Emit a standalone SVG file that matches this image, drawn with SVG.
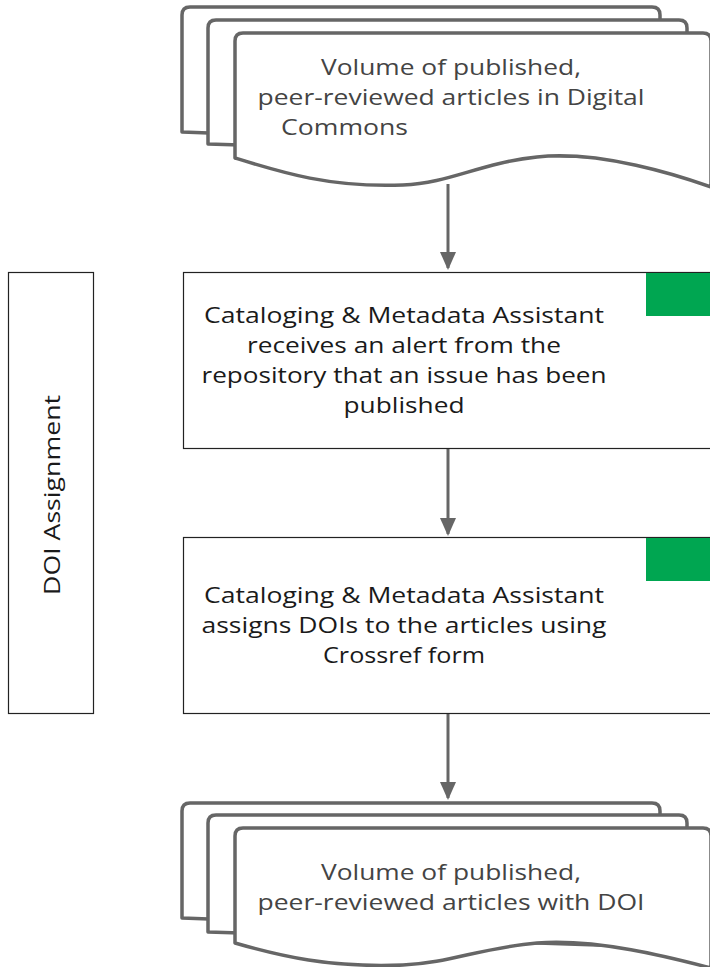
<svg xmlns="http://www.w3.org/2000/svg" width="710" height="967" viewBox="0 0 710 967">
<defs>
<style>
.doc{fill:#fff;stroke:#666;stroke-width:3.5;stroke-linejoin:round}
.box{fill:#fff;stroke:#222;stroke-width:1.2}
.tag{fill:#00a651}
.t{font-family:"Open Sans","Noto Sans",sans-serif;font-size:21px;fill:#1a1a1a}
.td{font-family:"Open Sans","Noto Sans",sans-serif;font-size:21px;fill:#444}
.conn{stroke:#666;stroke-width:3;fill:none}
</style>
<marker id="ah" markerUnits="userSpaceOnUse" markerWidth="18" markerHeight="24" refX="16" refY="8" orient="auto" viewBox="0 0 18 16">
<path d="M0,0 L18,8 L0,16 Z" fill="#666"/>
</marker>
</defs>
<rect width="710" height="967" fill="#fff"/>
<g id="lane">
<rect class="box" x="8.5" y="272.5" width="85" height="441"/>
<text class="t" transform="translate(60,495) rotate(-90)" text-anchor="middle" textLength="200" lengthAdjust="spacingAndGlyphs">DOI Assignment</text>
</g>
<g id="connectors">
<line class="conn" x1="448" y1="184" x2="448" y2="268" marker-end="url(#ah)"/>
<line class="conn" x1="448" y1="449" x2="448" y2="534" marker-end="url(#ah)"/>
<line class="conn" x1="448" y1="714" x2="448" y2="798" marker-end="url(#ah)"/>
</g>
<g id="doc1">
<path class="doc" d="M182,132 L182,15 Q182,7 190,7 L652,7 Q660,7 660,15 L660,150 L182,132 Z"/>
<path class="doc" d="M208,144 L208,28 Q208,20 216,20 L679,20 Q687,20 687,28 L687,160 L208,144 Z"/>
<path class="doc" d="M235,158 L235,41 Q235,33 243,33 L703,33 Q711,33 711,41 L711,187 C680,176 600,150 537,157 C480,163 450,183 403,185 C330,188 280,172 235,158 Z"/>
<text class="td" x="451" y="75" text-anchor="middle" textLength="260" lengthAdjust="spacingAndGlyphs">Volume of published,</text>
<text class="td" x="451" y="105" text-anchor="middle" textLength="387" lengthAdjust="spacingAndGlyphs">peer-reviewed articles in Digital</text>
<text class="td" x="281" y="135" textLength="127" lengthAdjust="spacingAndGlyphs">Commons</text>
</g>
<g id="step1">
<rect class="box" x="183.5" y="272.5" width="530" height="176"/>
<rect class="tag" x="646" y="273" width="64" height="43"/>
<text class="t" x="404" y="323" text-anchor="middle" textLength="400" lengthAdjust="spacingAndGlyphs">Cataloging &amp; Metadata Assistant</text>
<text class="t" x="404" y="353" text-anchor="middle" textLength="314" lengthAdjust="spacingAndGlyphs">receives an alert from the</text>
<text class="t" x="404" y="383" text-anchor="middle" textLength="405" lengthAdjust="spacingAndGlyphs">repository that an issue has been</text>
<text class="t" x="404" y="413" text-anchor="middle" textLength="121" lengthAdjust="spacingAndGlyphs">published</text>
</g>
<g id="step2">
<rect class="box" x="183.5" y="537.5" width="530" height="176"/>
<rect class="tag" x="646" y="538" width="64" height="43"/>
<text class="t" x="404" y="603" text-anchor="middle" textLength="400" lengthAdjust="spacingAndGlyphs">Cataloging &amp; Metadata Assistant</text>
<text class="t" x="404" y="633" text-anchor="middle" textLength="405" lengthAdjust="spacingAndGlyphs">assigns DOIs to the articles using</text>
<text class="t" x="404" y="663" text-anchor="middle" textLength="162" lengthAdjust="spacingAndGlyphs">Crossref form</text>
</g>
<g id="doc2">
<path class="doc" d="M182,918 L182,811 Q182,803 190,803 L652,803 Q660,803 660,811 L660,935 L182,918 Z"/>
<path class="doc" d="M208,932 L208,823 Q208,815 216,815 L679,815 Q687,815 687,823 L687,948 L208,932 Z"/>
<path class="doc" d="M235,943 L235,836 Q235,828 243,828 L703,828 Q711,828 711,836 L711,968 C680,960 600,938 537,943 C480,948 450,963 403,965 C330,968 280,956 235,943 Z"/>
<text class="td" x="451" y="880" text-anchor="middle" textLength="260" lengthAdjust="spacingAndGlyphs">Volume of published,</text>
<text class="td" x="451" y="910" text-anchor="middle" textLength="387" lengthAdjust="spacingAndGlyphs">peer-reviewed articles with DOI</text>
</g>
</svg>
